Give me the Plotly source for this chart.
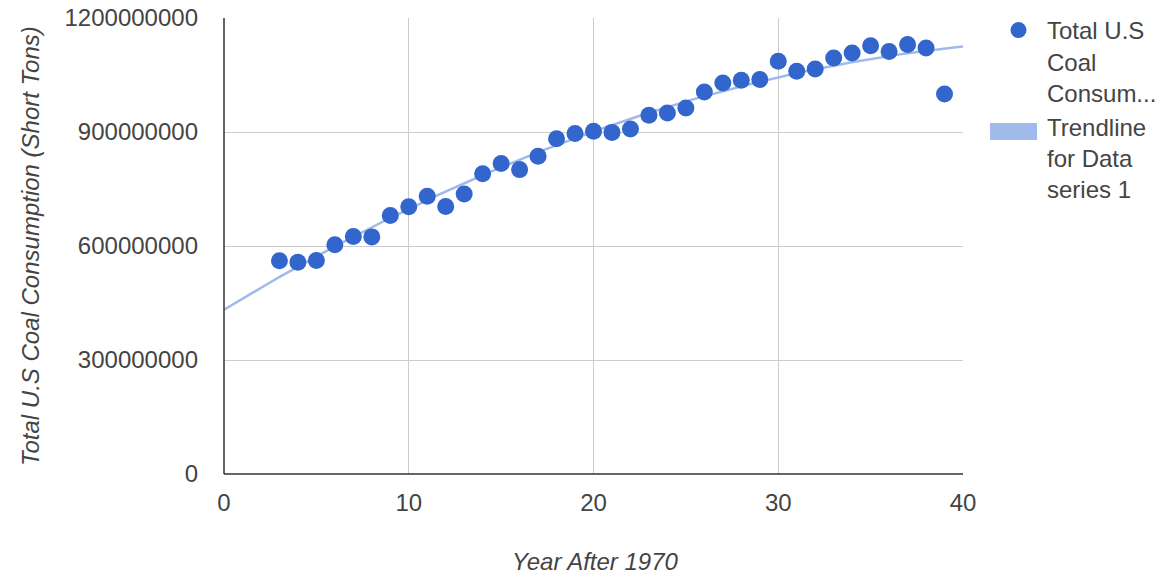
import numpy as np
import plotly.graph_objects as go

years_after_1970 = list(range(3, 40))
consumption = [561e6, 557e6, 562e6, 603e6, 625e6, 624e6, 680e6, 703e6, 731e6, 704e6,
               737e6, 790e6, 817e6, 801e6, 836e6, 882e6, 896e6, 902e6, 899e6, 908e6,
               944e6, 950e6, 963e6, 1005e6, 1029e6, 1036e6, 1038e6, 1086e6, 1060e6, 1066e6,
               1095e6, 1108e6, 1127e6, 1112e6, 1130e6, 1121e6, 1000e6]
y_ticks = [0, 300000000, 600000000, 900000000, 1200000000]
x_ticks = [0, 10, 20, 30, 40]

coef = np.polyfit(years_after_1970, consumption, 2)
tx = np.linspace(0, 40, 200)
ty = np.polyval(coef, tx)

FONT = "Arial, Liberation Sans, sans-serif"
TREND = "rgba(150,178,234,0.9)"
FS = 24
W, H = 1163, 576
L, R, T, B = 224, 200, 18, 102
PW, PH = W - L - R, H - T - B


def px(xp):
    return (xp - L) / PW


def py(yp):
    return (H - B - yp) / PH


fig = go.Figure()
fig.add_trace(go.Scatter(x=tx, y=ty, mode="lines", line=dict(color=TREND, width=2.5),
                         showlegend=False, hoverinfo="skip"))
fig.add_trace(go.Scatter(x=years_after_1970, y=consumption, mode="markers",
                         marker=dict(color="#3366cc", size=17),
                         name="Total U.S<br>Coal<br>Consum..."))
fig.add_trace(go.Scatter(x=[None], y=[None], mode="lines",
                         line=dict(color=TREND, width=0),
                         name="Trendline<br>for Data<br>series 1"))

fig.update_layout(
    width=W, height=H,
    margin=dict(l=L, r=R, t=T, b=B),
    paper_bgcolor="white", plot_bgcolor="white",
    font=dict(family=FONT, size=FS, color="#444"),
    legend=dict(xref="container", yref="container", x=990 / W, y=1 - 8 / H,
                xanchor="left", yanchor="top", valign="top",
                bgcolor="rgba(0,0,0,0)",
                font=dict(size=FS, color="#444"), tracegroupgap=13,
                itemwidth=47),
    xaxis=dict(range=[0, 40], tickvals=x_ticks, showgrid=True, gridcolor="#cccccc",
               zeroline=False, showline=False, ticks="outside", ticklen=7,
               tickcolor="rgba(0,0,0,0)", automargin=False),
    yaxis=dict(range=[0, 1200000000], tickvals=y_ticks, tickformat="d",
               showgrid=True, gridcolor="#cccccc", zeroline=False, showline=False,
               ticklabelstandoff=25, automargin=False),
    annotations=[
        dict(text="<i>Year After 1970</i>", xref="paper", yref="paper",
             x=px(595), y=py(561), xanchor="center", yanchor="middle",
             showarrow=False, font=dict(size=FS, color="#444")),
        dict(text="<i>Total U.S Coal Consumption (Short Tons)</i>", xref="paper",
             yref="paper", x=px(30), y=py(246), xanchor="center",
             yanchor="middle", textangle=-90, showarrow=False,
             font=dict(size=FS, color="#444")),
    ],
)
fig.add_shape(type="line", xref="paper", yref="paper", x0=0, x1=1, y0=0, y1=0,
              line=dict(color="#333", width=1.5))
fig.add_shape(type="line", xref="paper", yref="paper", x0=0, x1=0, y0=0, y1=1,
              line=dict(color="#333", width=1.5))
# legend swatch for the trendline (rectangle like the original)
fig.add_shape(type="rect", xref="paper", yref="paper", x0=px(990), x1=px(1037),
              y0=py(140), y1=py(123), fillcolor=TREND, line=dict(width=0))

fig.write_html("out.html", config={"displayModeBar": False},
               post_script="document.body.style.margin='0px';document.body.style.padding='0px';")
